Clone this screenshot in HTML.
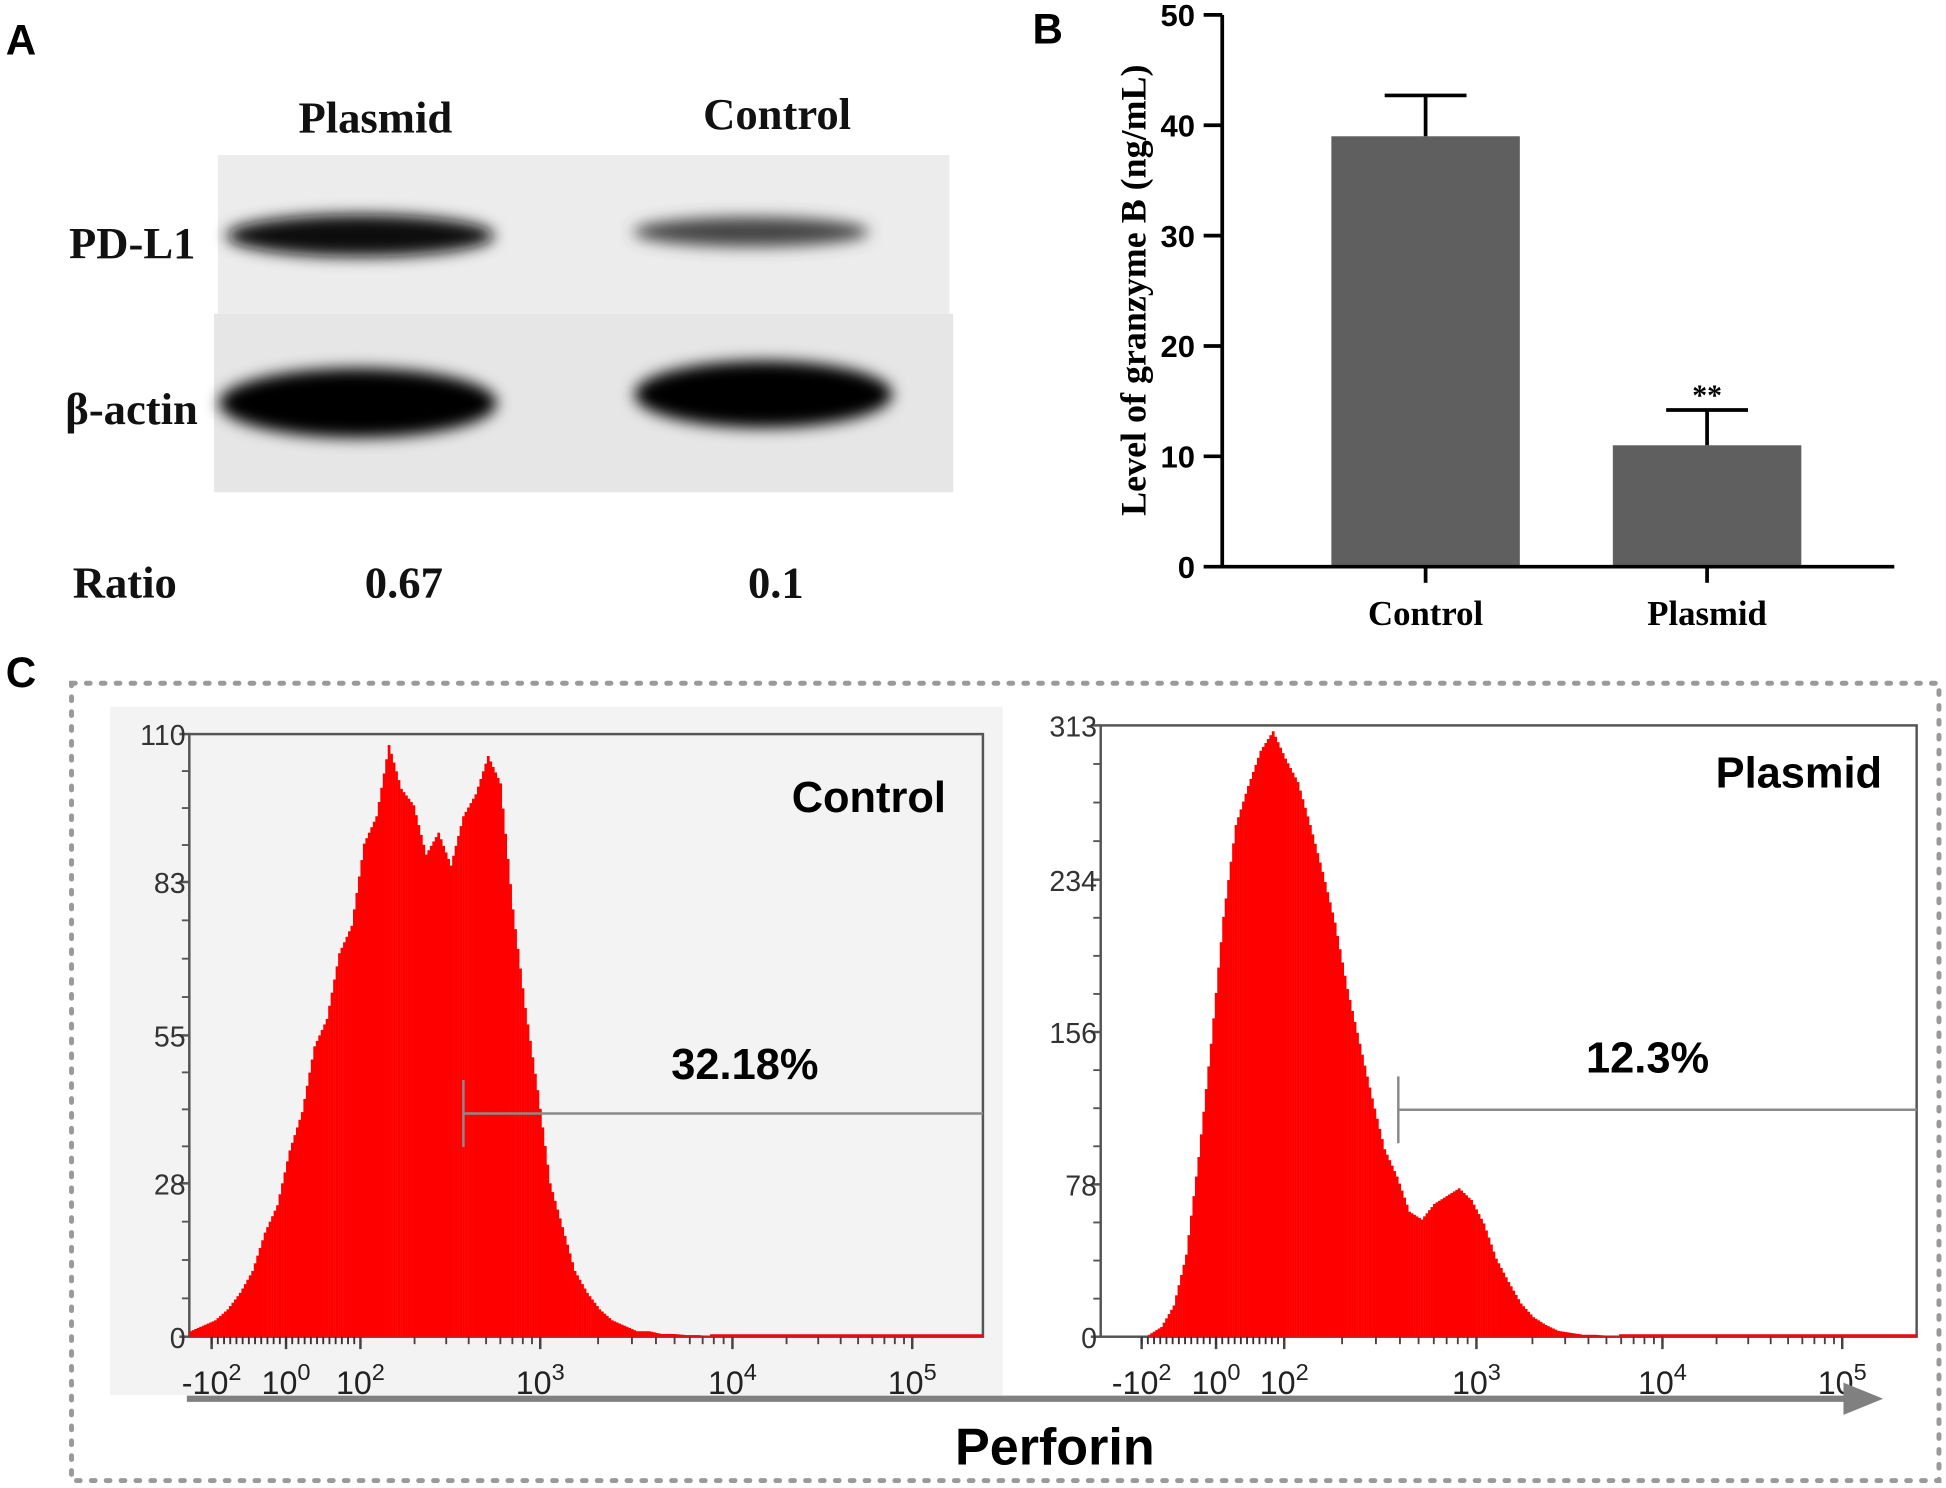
<!DOCTYPE html>
<html><head><meta charset="utf-8">
<style>html,body{margin:0;padding:0;background:#fff}svg{display:block}</style>
</head><body>
<svg id="fig" width="1946" height="1488" viewBox="0 0 1568 1200" xmlns="http://www.w3.org/2000/svg">
<defs>
<filter id="blur2" x="-30%" y="-100%" width="160%" height="300%"><feGaussianBlur stdDeviation="6"/></filter>
</defs>
<g font-family="Liberation Sans, sans-serif" font-weight="bold" font-size="34">
<text x="4" y="44">A</text>
<text x="832" y="35">B</text>
<text x="4" y="554">C</text>
</g>
<!-- Western blot -->
<g>
<rect x="175" y="125" width="590" height="128" fill="#ececec"/>
<rect x="172" y="253" width="596" height="144" fill="#e6e6e6"/>
<ellipse cx="290" cy="190" rx="108" ry="17" fill="#111" filter="url(#blur2)"/>
<ellipse cx="605" cy="187" rx="95" ry="12" fill="#444" filter="url(#blur2)"/>
<ellipse cx="288" cy="325" rx="112" ry="28" fill="#000" filter="url(#blur2)"/>
<ellipse cx="615" cy="318" rx="104" ry="27" fill="#000" filter="url(#blur2)"/>
<g font-family="Liberation Serif, serif" font-weight="bold" font-size="36" fill="#111">
<text x="302" y="107" text-anchor="middle">Plasmid</text>
<text x="626" y="104" text-anchor="middle">Control</text>
<text x="55" y="208">PD-L1</text>
<text x="52" y="342">β-actin</text>
<text x="58" y="482">Ratio</text>
<text x="325" y="482" text-anchor="middle">0.67</text>
<text x="625" y="482" text-anchor="middle">0.1</text>
</g>
</g>
<g id="barchart"></g>
<!-- panel C -->
<rect x="57" y="551" width="1506" height="643" fill="none" stroke="#9a9a9a" stroke-width="4" stroke-dasharray="3 9" stroke-linecap="round"/>
<rect x="88" y="570" width="720" height="555" fill="#f3f3f3"/>
<g id="histL"></g>
<g id="histR"></g>
<line x1="150" y1="1128" x2="1492" y2="1128" stroke="#808080" stroke-width="5"/>
<polygon points="1486,1115 1518,1128 1486,1141" fill="#808080"/>
<text x="850" y="1181" text-anchor="middle" font-family="Liberation Sans, sans-serif" font-weight="bold" font-size="42">Perforin</text>
</svg>
<script>
const NS='http://www.w3.org/2000/svg';
function mk(parent,tag,attrs,text){const e=document.createElementNS(NS,tag);for(const k in attrs)e.setAttribute(k,attrs[k]);if(text!==undefined)e.textContent=text;parent.appendChild(e);return e;}

// ---- Bar chart data ----
const barCategories=['Control','Plasmid'];
const barValues=[39,11];
const barErrors=[3.7,3.2];
const barSig=['','**'];
const barYTicks=[0,10,20,30,40,50];

(function(){
 const g=document.getElementById('barchart');
 const x0=985,x1=1527,y0=457,y1=12,yMax=50;
 const ys=v=>y0-(v/yMax)*(y0-y1);
 const centers=[1149,1376];
 const bw=152;
 barCategories.forEach((c,i)=>{
  const x=centers[i];
  const r=mk(g,'rect',{x:x-bw/2,y:ys(barValues[i]),width:bw,height:y0-ys(barValues[i]),fill:'#5f5f5f'});
  
  
  const e=mk(g,'path',{d:`M${x},${ys(barValues[i])}V${ys(barValues[i]+barErrors[i])}M${x-33},${ys(barValues[i]+barErrors[i])}H${x+33}`,stroke:'#000','stroke-width':3,fill:'none'});
  
  
  mk(g,'line',{x1:x,y1:y0,x2:x,y2:y0+13,stroke:'#000','stroke-width':3});
  const t=mk(g,'text',{x:x,y:504,'text-anchor':'middle','font-family':'Liberation Serif, serif','font-weight':'bold','font-size':28},c);
  
  
  if(barSig[i]){const s=mk(g,'text',{x:x,y:ys(barValues[i]+barErrors[i])-4,'text-anchor':'middle','font-family':'Liberation Serif, serif','font-weight':'bold','font-size':24},barSig[i]);
   
   }
 });
 const ax=mk(g,'path',{d:`M${x0},${y1}V${y0}H${x1}`,stroke:'#000','stroke-width':3,fill:'none'});
 
 
 barYTicks.forEach(v=>{
  mk(g,'line',{x1:x0-15,y1:ys(v),x2:x0,y2:ys(v),stroke:'#000','stroke-width':3});
  const t=mk(g,'text',{x:x0-22,y:ys(v)+9,'text-anchor':'end','font-family':'Liberation Sans, sans-serif','font-weight':'bold','font-size':25},v);
  
  
 });
 const yt=mk(g,'text',{x:0,y:0,transform:'translate(923,234) rotate(-90)','text-anchor':'middle','font-family':'Liberation Serif, serif','font-weight':'bold','font-size':29},'Level of granzyme B (ng/mL)');
 
 
})();

// ---- Histogram data (bins 10 px wide in display, counts) ----
const ctrlYTicks=[0,28,55,83,110];
const ctrlCounts=[1,2,3,5,8,12,19,24,34,41,53,58,70,75,90,95,108,100,97,88,92,86,95,99,106,101,78,60,45,28,20,12,8,5,3,2,1,1,0.5,0.5,0.3,0.3];
const plasYTicks=[0,78,156,234,313];
const plasCounts=[1,5,16,42,92,150,215,262,282,300,310,296,284,262,238,212,178,150,122,96,82,64,60,68,72,76,70,58,40,28,17,10,6,3,2,1,1,0.5];

function drawHist(id,frame,yTicks,counts,startPx,xTickPos,gatePx,gateY,pct,pctX,pctY,name,nameX,nameY){
 const g=document.getElementById(id);
 const [fx0,fy0,fx1,fy1]=frame, yMax=yTicks[yTicks.length-1];
 const ys=v=>fy1-(v/yMax)*(fy1-fy0);
 mk(g,'rect',{x:fx0,y:fy0,width:fx1-fx0,height:fy1-fy0,fill:'none',stroke:'#555','stroke-width':2});
 counts.forEach((c,i)=>{
  for(let k=0;k<5;k++){
   const nxt=i+1<counts.length?counts[i+1]:0;
   const v=c+(nxt-c)*k/5;
   const b=mk(g,'rect',{x:startPx+i*10+k*2,y:ys(v),width:2.2,height:fy1-ys(v),fill:'#ff0000'});
   
   
  }
 });
 mk(g,'line',{x1:startPx+counts.length*10,y1:fy1-1,x2:fx1,y2:fy1-1,stroke:'#ff0000','stroke-width':2});
 yTicks.forEach(v=>{
  mk(g,'line',{x1:fx0-8,y1:ys(v),x2:fx0,y2:ys(v),stroke:'#555','stroke-width':2});
  const t=mk(g,'text',{x:fx0-3,y:ys(v)+9,'text-anchor':'end','font-family':'Liberation Sans, sans-serif','font-size':23,fill:'#333'},v);
  
  
 });
 for(let i=0;i<yTicks.length-1;i++){for(let k=1;k<4;k++){const yy=ys(yTicks[i]+(yTicks[i+1]-yTicks[i])*k/4);mk(g,'line',{x1:fx0-6,y1:yy,x2:fx0,y2:yy,stroke:'#555','stroke-width':1.5});}}
 const labs=[['-10','2'],['10','0'],['10','2'],['10','3'],['10','4'],['10','5']];
 xTickPos.forEach((px,i)=>{
  mk(g,'line',{x1:px,y1:fy1,x2:px,y2:fy1+10,stroke:'#444','stroke-width':2});
  const t=mk(g,'text',{x:px,y:fy1+46,'text-anchor':'middle','font-family':'Liberation Sans, sans-serif','font-size':26,fill:'#222'});
  mk(t,'tspan',{},labs[i][0]);mk(t,'tspan',{dy:-11,'font-size':19},labs[i][1]);
  
  
 });
 for(let px=xTickPos[0];px<xTickPos[2];px+=5){mk(g,'line',{x1:px,y1:fy1,x2:px,y2:fy1+6,stroke:'#333','stroke-width':1.5});}
 for(let d=2;d<5;d++){const a=xTickPos[d],b=xTickPos[d+1];for(let k=2;k<10;k++){const px=a+(b-a)*Math.log10(k);mk(g,'line',{x1:px,y1:fy1,x2:px,y2:fy1+6,stroke:'#444','stroke-width':1.5});}}
 const gl=mk(g,'path',{d:`M${gatePx},${gateY-27}V${gateY+27}M${gatePx},${gateY}H${fx1}`,stroke:'#8a8a8a','stroke-width':2,fill:'none'});
 
 
 const p=mk(g,'text',{x:pctX,y:pctY,'text-anchor':'middle','font-family':'Liberation Sans, sans-serif','font-weight':'bold','font-size':35},pct);
 
 
 const n=mk(g,'text',{x:nameX,y:nameY,'text-anchor':'middle','font-family':'Liberation Sans, sans-serif','font-weight':'bold','font-size':35},name);
 
 
}
drawHist('histL',[152,592,792,1078],ctrlYTicks,ctrlCounts,152,[170,230,290,435,590,735],373,898,'32.18%',600,870,'Control',700,655);
drawHist('histR',[887,585,1545,1078],plasYTicks,plasCounts,925,[920,980,1035,1190,1340,1485],1127,895,'12.3%',1328,865,'Plasmid',1450,635);
</script>
</body></html>
